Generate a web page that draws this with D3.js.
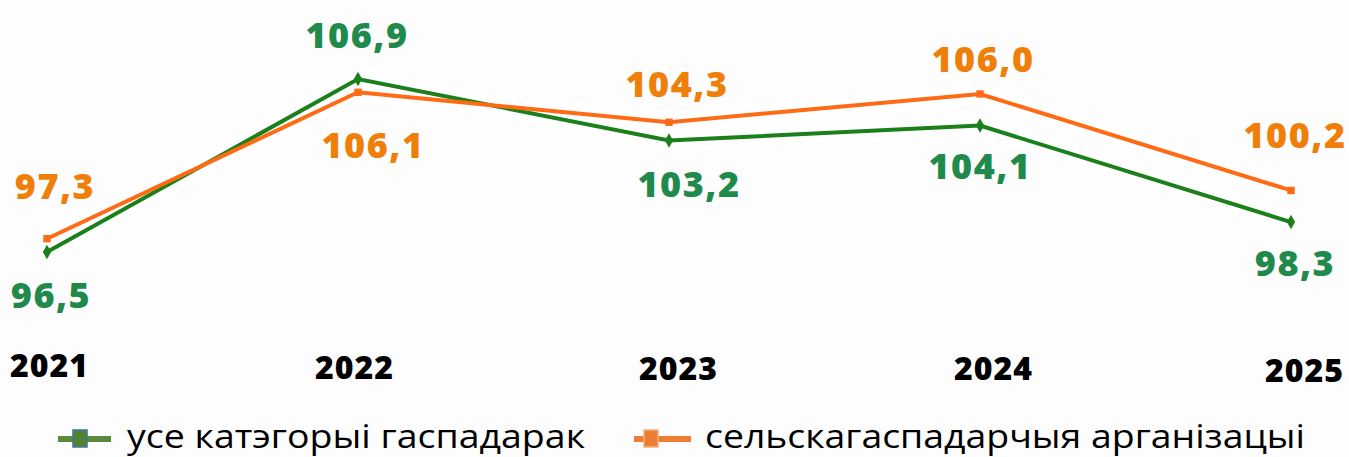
<!DOCTYPE html>
<html>
<head>
<meta charset="utf-8">
<script src="https://cdn.jsdelivr.net/npm/d3@7"></script>
<style>
  html, body { margin: 0; padding: 0; background: #fdfdfd; }
  svg { display: block; }
</style>
</head>
<body>
<script>
// data
const years = ['2021', '2022', '2023', '2024', '2025'];
const allFarms = [96.5, 106.9, 103.2, 104.1, 98.3];      // усе катэгорыі гаспадарак
const agriOrgs = [97.3, 106.1, 104.3, 106.0, 100.2];     // сельскагаспадарчыя арганізацыі
const seriesNames = ['усе катэгорыі гаспадарак', 'сельскагаспадарчыя арганізацыі'];

// label nudges (dx, dy from the point)
const greenLabelOff = [[4, 56], [-1, -31], [20, 56], [0, 53], [4, 54]];
const orangeLabelOff = [[8, -40], [15, 66], [8, -25], [3, -22], [4, -42]];
const yearOff = [[2, -2], [-4, 0], [9, 1], [13, 1], [13, 3]];

const W = 1349, H = 457;
const svg = d3.select('body').append('svg')
    .attr('width', W).attr('height', H)
    .attr('xmlns', 'http://www.w3.org/2000/svg');

const x = d3.scalePoint().domain(years).range([47, 1291]).padding(0);
const y = d3.scaleLinear().domain([96.5, 106.9]).range([252, 79]);

const fmt = v => d3.format('.1f')(v).replace('.', ',');

const series = [
    { name: seriesNames[0], values: allFarms, line: '#1b801b', text: '#1f8a4b', off: greenLabelOff, marker: 'diamond' },
    { name: seriesNames[1], values: agriOrgs, line: '#ff6a14', text: '#f07f0a', off: orangeLabelOff, marker: 'square' }
];

const line = d3.line()
    .x((d, i) => x(years[i]))
    .y(d => y(d));

// soft white halo under the lines
series.forEach(s => {
    svg.append('path')
        .attr('d', line(s.values))
        .attr('fill', 'none')
        .attr('stroke', '#ffffff')
        .attr('stroke-width', 22)
        .attr('stroke-linejoin', 'round')
        .attr('opacity', 0.9);
});

series.forEach(s => {
    svg.append('path')
        .attr('d', line(s.values))
        .attr('fill', 'none')
        .attr('stroke', s.line)
        .attr('stroke-width', 4)
        .attr('stroke-linejoin', 'miter');

    const sym = d3.symbol()
        .type(s.marker === 'diamond' ? d3.symbolDiamond : d3.symbolSquare)
        .size(s.marker === 'diamond' ? 60 : 55);

    svg.selectAll(null)
        .data(s.values)
        .enter()
        .append('path')
        .attr('d', sym)
        .attr('transform', (d, i) => `translate(${x(years[i])},${y(d)})`)
        .attr('fill', s.line);
});

// value labels
series.forEach(s => {
    svg.selectAll(null)
        .data(s.values)
        .enter()
        .append('text')
        .attr('x', (d, i) => x(years[i]) + s.off[i][0])
        .attr('y', (d, i) => y(d) + s.off[i][1])
        .attr('text-anchor', 'middle')
        .attr('font-family', '"Open Sans", sans-serif')
        .attr('font-weight', 800)
        .attr('font-size', 36)
        .attr('letter-spacing', 1.5)
        .attr('fill', s.text)
        .text(d => fmt(d));
});

// year axis
const axis = svg.append('g')
    .attr('transform', 'translate(0,379)')
    .call(d3.axisBottom(x).tickSize(0).tickPadding(0));
axis.select('.domain').remove();
axis.selectAll('.tick text')
    .attr('dy', 0)
    .attr('x', (d, i) => yearOff[i][0])
    .attr('y', (d, i) => yearOff[i][1])
    .attr('font-family', '"Open Sans", sans-serif')
    .attr('font-weight', 800)
    .attr('font-size', 32)
    .attr('letter-spacing', 1)
    .attr('fill', '#000');

// legend
const legendItems = [
    { name: seriesNames[0], line: '#5b8a3c', fill: '#548235', stroke: '#41719c', x0: 58, x1: 111, mx: 73, tx: 127, tw: 458 },
    { name: seriesNames[1], line: '#ef7d32', fill: '#ed7d31', stroke: '#f4b183', x0: 634, x1: 691, mx: 644, tx: 705, tw: 600 }
];
const legend = svg.append('g');
legendItems.forEach(it => {
    legend.append('line')
        .attr('x1', it.x0).attr('x2', it.x1)
        .attr('y1', 439).attr('y2', 439)
        .attr('stroke', it.line)
        .attr('stroke-width', 6);
    legend.append('rect')
        .attr('x', it.mx).attr('y', 430)
        .attr('width', 14).attr('height', 17)
        .attr('fill', it.fill)
        .attr('stroke', it.stroke)
        .attr('stroke-width', 1.5);
    legend.append('text')
        .attr('x', it.tx).attr('y', 448)
        .attr('font-family', '"Open Sans", sans-serif')
        .attr('font-size', 33)
        .attr('textLength', it.tw)
        .attr('lengthAdjust', 'spacingAndGlyphs')
        .attr('fill', '#000')
        .text(it.name);
});
</script>
</body>
</html>
